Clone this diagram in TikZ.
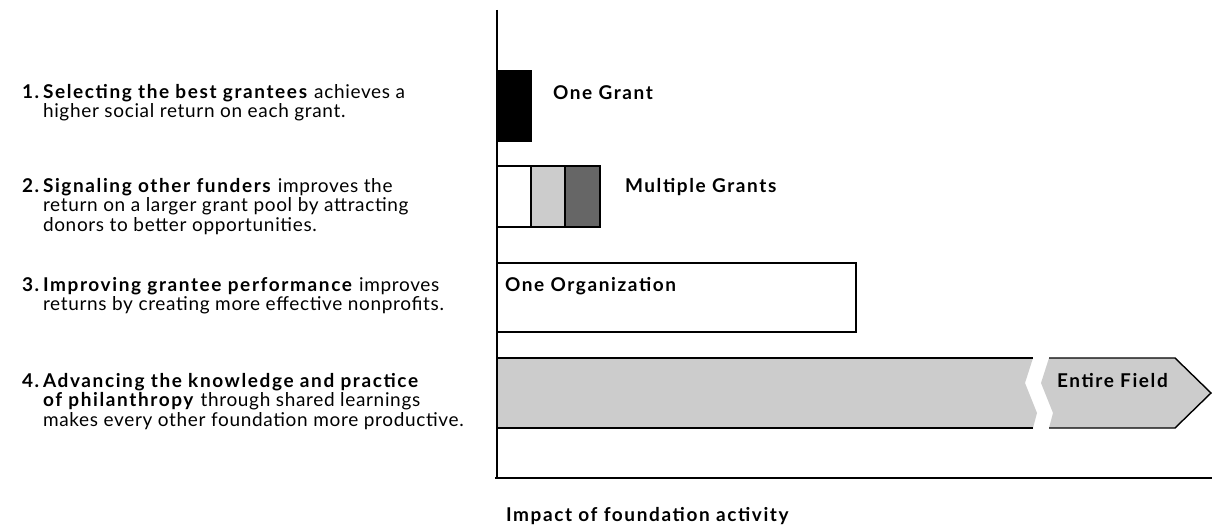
\documentclass[tikz,border=0pt]{standalone}
\usepackage{fontspec}
\setmainfont{Lato}[LetterSpace=3.5, BoldFeatures={LetterSpace=8.5}]
\usepackage{xcolor}
\usepackage{tikz}

\definecolor{lightbar}{HTML}{CCCCCC}
\definecolor{darkbar}{HTML}{666666}

\newcommand{\lines}[1]{\begin{tabular}[t]{@{}l@{}}#1\end{tabular}}

\begin{document}
\begin{tikzpicture}[x=1pt, y=-1pt,
        every node/.style={inner sep=0pt, outer sep=0pt},
        num/.style={anchor=base west, font=\fontsize{19}{19.5}\selectfont\bfseries},
        item/.style={anchor=base west, font=\fontsize{19}{19.5}\selectfont},
        lbl/.style={anchor=base west, font=\fontsize{19}{19.5}\selectfont\bfseries},
        bar/.style={draw=black, line width=1.4pt}]
        \useasboundingbox (0,0) rectangle (1212,527);

        % left column
        \node[num] (n1) at (22, 98) {1.};
        \node[item] (t1) at (43, 98) {\lines{\textbf{Selecting the best grantees} achieves a\\higher social return on each grant.}};
        \node[num] (n2) at (22, 192) {2.};
        \node[item] (t2) at (43, 192) {\lines{\textbf{Signaling other funders} improves the\\return on a larger grant pool by attracting\\donors to better opportunities.}};
        \node[num] (n3) at (22, 291) {3.};
        \node[item] (t3) at (43, 291) {\lines{\textbf{Improving grantee performance} improves\\returns by creating more effective nonprofits.}};
        \node[num] (n4) at (22, 387) {4.};
        \node[item] (t4) at (43, 387) {\lines{\textbf{Advancing the knowledge and practice}\\\textbf{of philanthropy} through shared learnings\\makes every other foundation more productive.}};

        % bars
        \fill[black] (497,70) rectangle (532,142);
        \draw[bar, fill=white] (497,166) rectangle (531,227);
        \draw[bar, fill=lightbar] (531,166) rectangle (565,227);
        \draw[bar, fill=darkbar] (565,166) rectangle (600,227);
        \draw[bar, fill=white] (497,263) rectangle (856,332);

        % entire field, broken band
        \fill[lightbar] (497,358) -- (1033,358) -- (1025,383) -- (1037,413) -- (1033,428) -- (497,428) -- cycle;
        \fill[lightbar] (1049,358) -- (1175,358) -- (1211,393) -- (1175,428) -- (1049,428) -- (1053,413) -- (1041,383) -- cycle;
        \draw[bar] (497,358) -- (1033,358) (1033,428) -- (497,428);
        \draw[bar, line join=miter] (1049,358) -- (1175,358) -- (1211,393) -- (1175,428) -- (1049,428);

        % axes
        \draw[line width=1.4pt] (497,10) -- (497,478);
        \draw[line width=1.4pt] (495,478) -- (1212,478);

        \node[lbl] (grant) at (553, 99) {One Grant};
        \node[lbl] (multi) at (625, 192) {Multiple Grants};
        \node[lbl] (org) at (505, 291) {One Organization};
        \node[lbl] (field) at (1057, 387) {Entire Field};
        \node[lbl] (impact) at (506, 521) {Impact of foundation activity};
    \end{tikzpicture}
\end{document}
